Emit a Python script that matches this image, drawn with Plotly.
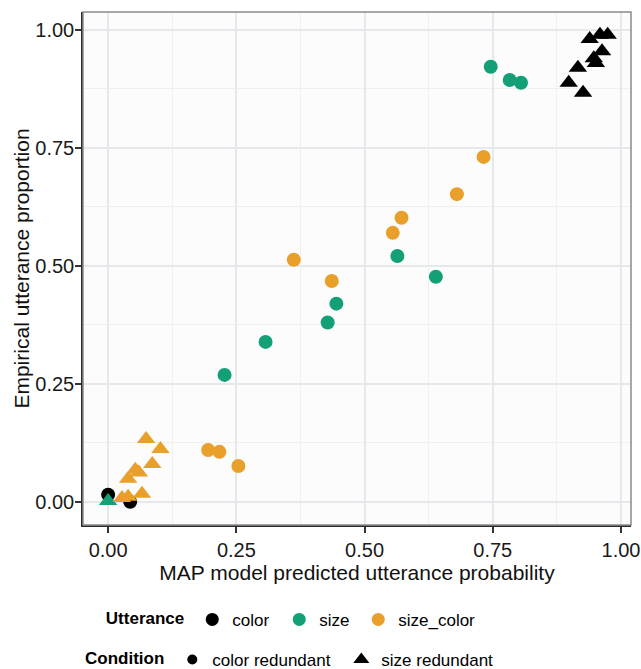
import plotly.graph_objects as go

# ---- data ----
# Utterance "color"
color_cr_x = [0.000, 0.043]
color_cr_y = [0.015, 0.000]
color_sr_x = [0.939, 0.959, 0.974, 0.963, 0.947, 0.951, 0.916, 0.898, 0.926]
color_sr_y = [0.981, 0.990, 0.990, 0.955, 0.940, 0.930, 0.920, 0.888, 0.867]

# Utterance "size"
size_cr_x = [0.746, 0.783, 0.805, 0.564, 0.639, 0.445, 0.428, 0.307, 0.227]
size_cr_y = [0.922, 0.894, 0.888, 0.521, 0.477, 0.420, 0.380, 0.339, 0.269]
size_sr_x = [0.000]
size_sr_y = [0.002]

# Utterance "size_color"
sc_cr_x = [0.732, 0.680, 0.572, 0.555, 0.362, 0.436, 0.195, 0.217, 0.254]
sc_cr_y = [0.731, 0.652, 0.602, 0.570, 0.513, 0.468, 0.110, 0.106, 0.076]
sc_sr_x = [0.074, 0.102, 0.086, 0.053, 0.039, 0.066, 0.039, 0.027, 0.060]
sc_sr_y = [0.133, 0.112, 0.080, 0.068, 0.049, 0.017, 0.011, 0.008, 0.062]

utterances = ["color", "size", "size_color"]
conditions = ["color redundant", "size redundant"]
colors = {"color": "#000000", "size": "#13A077", "size_color": "#E8A02A"}
symbols = {"color redundant": "circle", "size redundant": "triangle-up"}
utt_legend_widths = {"color": 42, "size": 34, "size_color": 80}
cond_legend_widths = {"color redundant": 124, "size redundant": 116}

x_ticks = [0.0, 0.25, 0.5, 0.75, 1.0]
x_ticklabels = ["0.00", "0.25", "0.50", "0.75", "1.00"]
y_ticks = [0.0, 0.25, 0.5, 0.75, 1.0]
y_ticklabels = ["0.00", "0.25", "0.50", "0.75", "1.00"]

series = [
    ("color", "color redundant", color_cr_x, color_cr_y),
    ("size", "color redundant", size_cr_x, size_cr_y),
    ("size_color", "color redundant", sc_cr_x, sc_cr_y),
    ("color", "size redundant", color_sr_x, color_sr_y),
    ("size", "size redundant", size_sr_x, size_sr_y),
    ("size_color", "size redundant", sc_sr_x, sc_sr_y),
]

FONT = "Liberation Sans, Arial, sans-serif"
fig = go.Figure()

for utt, cond, xs, ys in series:
    fig.add_trace(go.Scatter(
        x=xs, y=ys, mode="markers", showlegend=False,
        marker=dict(color=colors[utt], symbol=symbols[cond],
                    size=14 if cond == "color redundant" else 16,
                    line=dict(width=0)),
        hoverinfo="x+y",
    ))

# legend entries
for utt in utterances:
    fig.add_trace(go.Scatter(
        x=[None], y=[None], mode="markers", name=utt, legend="legend",
        legendwidth=utt_legend_widths[utt],
        marker=dict(color=colors[utt], symbol="circle", size=13),
    ))
for cond in conditions:
    fig.add_trace(go.Scatter(
        x=[None], y=[None], mode="markers", name=cond, legend="legend2",
        legendwidth=cond_legend_widths[cond],
        marker=dict(color="#000000", symbol=symbols[cond],
                    size=10 if cond == "color redundant" else 14),
    ))

axis_common = dict(
    automargin=False,
    showgrid=True, gridcolor="#E6E8EC", gridwidth=1.5,
    minor=dict(showgrid=True, gridcolor="#EEF0F2", gridwidth=1, dtick=0.125),
    zeroline=False, showline=True, linecolor="#2b2b2b", linewidth=1.5,
    ticks="outside", ticklen=6, tickwidth=1.5, tickcolor="#333333",
    tickfont=dict(family=FONT, size=20, color="#1a1a1a"),
)

fig.update_layout(
    width=641, height=669,
    margin=dict(l=83, r=10, t=12, b=144, autoexpand=False),
    paper_bgcolor="white", plot_bgcolor="#FCFCFD",
    font=dict(family=FONT, color="#000000"),
    xaxis=dict(axis_common, range=[-0.049, 1.0195], tickvals=x_ticks,
               ticktext=x_ticklabels,
               title=dict(text="MAP model predicted utterance probability",
                          font=dict(family=FONT, size=21, color="#111111"),
                          standoff=6)),
    yaxis=dict(axis_common, range=[-0.049, 1.038], tickvals=y_ticks,
               ticktext=y_ticklabels, ticklabelstandoff=-3,
               title=dict(text="Empirical utterance proportion",
                          font=dict(family=FONT, size=21, color="#111111"),
                          standoff=0)),
    legend=dict(orientation="h", x=0.038, xanchor="left", y=-0.185, yanchor="middle",
                title=dict(text="<b>Utterance</b>", side="left",
                           font=dict(family=FONT, size=17)),
                font=dict(family=FONT, size=17), bgcolor="rgba(0,0,0,0)"),
    legend2=dict(orientation="h", x=0.0, xanchor="left", y=-0.263, yanchor="middle",
                 title=dict(text="<b>Condition</b>", side="left",
                            font=dict(family=FONT, size=17)),
                 font=dict(family=FONT, size=17), bgcolor="rgba(0,0,0,0)"),
    shapes=[dict(type="rect", xref="paper", yref="paper", x0=0, y0=0, x1=1, y1=1,
                 line=dict(color="#8a8a8a", width=1.5), layer="above")],
)

fig.write_html("out.html",
               config={"displayModeBar": False},
               post_script="document.body.style.margin='0';document.body.style.overflow='hidden';")
